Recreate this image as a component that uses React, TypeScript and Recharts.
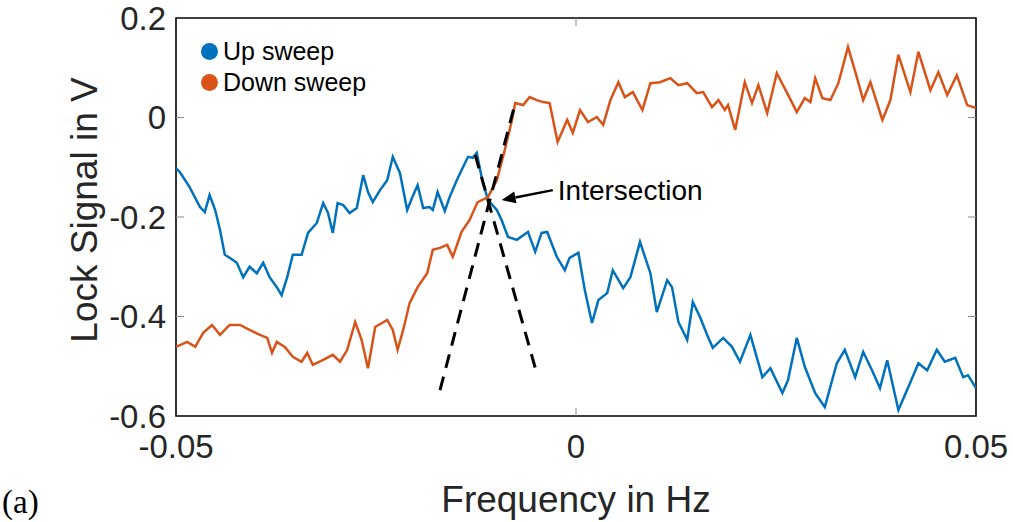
import React from 'react';
import { LineChart, Line, XAxis, YAxis, ReferenceLine, ReferenceArea, Label } from 'recharts';

// frequency in Hz, lock signal in V
const upFreq = [
  -0.05, -0.0495, -0.0483, -0.047, -0.0464, -0.0458, -0.0451, -0.0445, -0.0439, -0.0433,
  -0.0424, -0.0416, -0.0408, -0.0399, -0.0391, -0.0383, -0.0374, -0.0368, -0.0361, -0.0354,
  -0.0343, -0.0335, -0.0324, -0.0316, -0.031, -0.0304, -0.0298, -0.0291, -0.0283, -0.0274,
  -0.0266, -0.026, -0.0254, -0.0245, -0.0236, -0.0229, -0.022, -0.0211, -0.0205, -0.0198,
  -0.0191, -0.0183, -0.0179, -0.0173, -0.0164, -0.0158, -0.0149, -0.0141, -0.0135, -0.0129,
  -0.0124, -0.0118, -0.011, -0.0099, -0.0093, -0.0085, -0.0074, -0.006, -0.0051, -0.0043,
  -0.0036, -0.0024, -0.0014, -0.0008, 0.0003, 0.0011, 0.002, 0.0028, 0.0039, 0.0046,
  0.0059, 0.0068, 0.008, 0.0093, 0.0101, 0.0114, 0.012, 0.0128, 0.0139, 0.0146,
  0.0155, 0.0164, 0.0171, 0.0184, 0.0195, 0.0205, 0.0218, 0.0233, 0.0243, 0.0258,
  0.0265, 0.0276, 0.0286, 0.0299, 0.0311, 0.0326, 0.0336, 0.0349, 0.0359, 0.037,
  0.038, 0.0389, 0.0403, 0.0418, 0.0428, 0.0439, 0.0451, 0.0461, 0.0474, 0.0484,
  0.049, 0.05,
];
const upSignal = [
  -0.102, -0.11, -0.14, -0.18, -0.19, -0.156, -0.186, -0.226, -0.276, -0.282,
  -0.292, -0.321, -0.3, -0.313, -0.292, -0.321, -0.341, -0.357, -0.321, -0.276,
  -0.276, -0.232, -0.212, -0.172, -0.192, -0.232, -0.172, -0.176, -0.192, -0.182,
  -0.116, -0.15, -0.17, -0.146, -0.126, -0.079, -0.112, -0.186, -0.162, -0.136,
  -0.182, -0.18, -0.186, -0.15, -0.188, -0.16, -0.126, -0.099, -0.079, -0.081,
  -0.071, -0.12, -0.166, -0.186, -0.206, -0.24, -0.246, -0.23, -0.27, -0.232,
  -0.23, -0.28, -0.307, -0.282, -0.272, -0.347, -0.413, -0.367, -0.353, -0.307,
  -0.343, -0.321, -0.25, -0.313, -0.391, -0.327, -0.341, -0.411, -0.447, -0.371,
  -0.401, -0.437, -0.463, -0.443, -0.461, -0.491, -0.437, -0.522, -0.504, -0.554,
  -0.528, -0.443, -0.501, -0.554, -0.582, -0.494, -0.467, -0.522, -0.471, -0.508,
  -0.544, -0.488, -0.588, -0.532, -0.494, -0.508, -0.467, -0.491, -0.483, -0.522,
  -0.518, -0.544,
];

const downFreq = [
  -0.05, -0.0486, -0.0476, -0.0466, -0.0455, -0.0445, -0.0433, -0.042, -0.0408, -0.0395,
  -0.0386, -0.038, -0.0374, -0.0364, -0.0354, -0.0343, -0.0336, -0.0329, -0.0316, -0.0304,
  -0.0295, -0.0286, -0.0276, -0.0268, -0.026, -0.0251, -0.0236, -0.0229, -0.0223, -0.0216,
  -0.0208, -0.0198, -0.0186, -0.0179, -0.017, -0.0161, -0.0154, -0.0143, -0.0133, -0.0123,
  -0.011, -0.0099, -0.0089, -0.008, -0.0076, -0.0066, -0.0058, -0.0049, -0.0041, -0.0033,
  -0.0023, -0.0011, -0.0004, 0.0005, 0.0015, 0.0026, 0.0034, 0.0043, 0.0053, 0.0061,
  0.0071, 0.0083, 0.0093, 0.0105, 0.0118, 0.0128, 0.0139, 0.0151, 0.0159, 0.017,
  0.0178, 0.0186, 0.019, 0.0199, 0.0211, 0.022, 0.0228, 0.0239, 0.0251, 0.0264,
  0.0276, 0.0286, 0.0293, 0.0299, 0.0308, 0.0318, 0.0328, 0.034, 0.0351, 0.0359,
  0.0368, 0.0383, 0.0393, 0.0403, 0.0418, 0.0428, 0.0443, 0.0453, 0.0464, 0.0476,
  0.0489, 0.05,
];
const downSignal = [
  -0.461, -0.451, -0.461, -0.433, -0.417, -0.437, -0.417, -0.417, -0.427, -0.437,
  -0.443, -0.473, -0.451, -0.461, -0.481, -0.491, -0.473, -0.497, -0.487, -0.477,
  -0.491, -0.467, -0.411, -0.447, -0.504, -0.421, -0.407, -0.427, -0.467, -0.427,
  -0.373, -0.341, -0.313, -0.266, -0.262, -0.256, -0.28, -0.23, -0.206, -0.17,
  -0.16, -0.126, -0.065, -0.005, 0.029, 0.025, 0.041, 0.035, 0.031, 0.029,
  -0.049, -0.005, -0.031, 0.015, -0.009, 0.001, -0.015, 0.035, 0.071, 0.041,
  0.051, 0.015, 0.069, 0.071, 0.079, 0.065, 0.069, 0.049, 0.051, 0.021,
  0.035, 0.015, 0.025, -0.025, 0.071, 0.029, 0.065, 0.009, 0.089, 0.049,
  0.011, 0.039, 0.031, 0.079, 0.039, 0.035, 0.069, 0.142, 0.081, 0.035,
  0.071, -0.005, 0.035, 0.126, 0.051, 0.132, 0.055, 0.091, 0.045, 0.085,
  0.025, 0.019,
];

// dashed tangents through the intersection
const riseFreq = [-0.017, -0.0076];
const riseSignal = [-0.548, 0.029];
const fallFreq = [-0.0126, -0.0048];
const fallSignal = [-0.075, -0.52];

// annotation arrow (tail -> tip)
const arrowFreq = [-0.0029, -0.0093];
const arrowSignal = [-0.146, -0.166];

const xTicks = [-0.05, 0, 0.05];
const xTickLabels = ['-0.05', '0', '0.05'];
const yTicks = [-0.6, -0.4, -0.2, 0, 0.2];
const yTickLabels = ['-0.6', '-0.4', '-0.2', '0', '0.2'];

const seriesNames = ['Up sweep', 'Down sweep'];
const seriesColors = ['#0072BD', '#D95319'];

const font = "'Liberation Sans', Arial, Helvetica, sans-serif";

const zip = (fs: number[], vs: number[]) => fs.map((f, i) => ({ f, v: vs[i] }));

const upData = zip(upFreq, upSignal);
const downData = zip(downFreq, downSignal);
const riseData = zip(riseFreq, riseSignal);
const fallData = zip(fallFreq, fallSignal);

const ArrowShape = (p: any) => {
  const { x1, y1, x2, y2 } = p;
  const a = Math.atan2(y2 - y1, x2 - x1);
  const len = 14;
  const half = 6;
  const bx = x2 - len * Math.cos(a);
  const by = y2 - len * Math.sin(a);
  const pts = [
    `${x2},${y2}`,
    `${bx + half * Math.sin(a)},${by - half * Math.cos(a)}`,
    `${bx - half * Math.sin(a)},${by + half * Math.cos(a)}`,
  ].join(' ');
  return (
    <g>
      <line x1={x1} y1={y1} x2={bx} y2={by} stroke="#000" strokeWidth={2.5} />
      <polygon points={pts} fill="#000" />
      <text x={x1 + 5} y={y1 + 10} fontSize={28} fontFamily={font} fill="#000">
        Intersection
      </text>
    </g>
  );
};

const XTitle = (props: any) => {
  const vb = props.viewBox;
  return (
    <text x={vb.x + vb.width / 2} y={vb.y + 96} textAnchor="middle" fontSize={37} fontFamily={font} fill="#262626">
      Frequency in Hz
    </text>
  );
};

const YTitle = (props: any) => {
  const vb = props.viewBox;
  const x = vb.x + 21;
  const y = vb.y + vb.height / 2 - 7;
  return (
    <text x={x} y={y} transform={`rotate(-90 ${x} ${y})`} textAnchor="middle" fontSize={37} fontFamily={font} fill="#262626">
      Lock Signal in V
    </text>
  );
};

export default function App() {
  const tickStyle = { fill: '#262626', fontSize: 33, fontFamily: font };
  return (
    <div style={{ position: 'absolute', left: 0, top: 0, width: 1013, height: 522, background: '#fff' }}>
      <LineChart width={1013} height={522} margin={{ top: 18, right: 37, bottom: 6, left: 76 }}>
        <XAxis
          type="number"
          dataKey="f"
          domain={[-0.05, 0.05]}
          ticks={xTicks}
          interval={0}
          allowDataOverflow
          tickFormatter={(v: number) => xTickLabels[xTicks.indexOf(v)]}
          height={100}
          axisLine={false}
          tickLine={false}
          tickSize={0}
          tickMargin={19}
          tick={tickStyle}
        >
          <Label content={XTitle} />
        </XAxis>
        <YAxis
          type="number"
          dataKey="v"
          domain={[-0.6, 0.2]}
          ticks={yTicks}
          interval={0}
          allowDataOverflow
          tickFormatter={(v: number) => yTickLabels[yTicks.indexOf(v)]}
          width={100}
          axisLine={false}
          tickLine={false}
          tickSize={0}
          tickMargin={10}
          tick={tickStyle}
        >
          <Label content={YTitle} />
        </YAxis>

        {yTicks.slice(1, -1).map((t) => (
          <ReferenceLine key={`yl${t}`} segment={[{ x: -0.05, y: t }, { x: -0.049, y: t }]} stroke="#8a8a8a" strokeWidth={1} />
        ))}
        {yTicks.slice(1, -1).map((t) => (
          <ReferenceLine key={`yr${t}`} segment={[{ x: 0.049, y: t }, { x: 0.05, y: t }]} stroke="#8a8a8a" strokeWidth={1} />
        ))}
        {xTicks.slice(1, -1).map((t) => (
          <ReferenceLine key={`xb${t}`} segment={[{ x: t, y: -0.6 }, { x: t, y: -0.584 }]} stroke="#8a8a8a" strokeWidth={1} />
        ))}
        {xTicks.slice(1, -1).map((t) => (
          <ReferenceLine key={`xt${t}`} segment={[{ x: t, y: 0.184 }, { x: t, y: 0.2 }]} stroke="#8a8a8a" strokeWidth={1} />
        ))}

        <Line data={upData} dataKey="v" name={seriesNames[0]} stroke={seriesColors[0]} strokeWidth={2.5} dot={false} activeDot={false} isAnimationActive={false} />
        <Line data={downData} dataKey="v" name={seriesNames[1]} stroke={seriesColors[1]} strokeWidth={2.5} dot={false} activeDot={false} isAnimationActive={false} />
        <Line data={riseData} dataKey="v" stroke="#000" strokeWidth={3} strokeDasharray="14 9" dot={false} activeDot={false} legendType="none" isAnimationActive={false} />
        <Line data={fallData} dataKey="v" stroke="#000" strokeWidth={3} strokeDasharray="14 9" dot={false} activeDot={false} legendType="none" isAnimationActive={false} />

        <ReferenceLine
          segment={[{ x: arrowFreq[0], y: arrowSignal[0] }, { x: arrowFreq[1], y: arrowSignal[1] }]}
          ifOverflow="visible"
          shape={ArrowShape}
        />

        <ReferenceArea x1={-0.05} x2={0.05} y1={-0.6} y2={0.2} fill="none" fillOpacity={0} stroke="#000" strokeWidth={1.6} />
      </LineChart>

      <div style={{ position: 'absolute', left: 201, top: 36, fontFamily: font, fontSize: 25, color: '#000' }}>
        {seriesNames.map((n, i) => (
          <div key={n} style={{ display: 'flex', alignItems: 'center', height: 31 }}>
            <span style={{ width: 17, height: 17, borderRadius: '50%', background: seriesColors[i], display: 'inline-block', marginRight: 5 }} />
            <span>{n}</span>
          </div>
        ))}
      </div>

      <div style={{ position: 'absolute', left: 2, top: 486, fontFamily: "'Liberation Serif', 'Times New Roman', serif", fontSize: 33, lineHeight: '33px', color: '#000' }}>
        (a)
      </div>
    </div>
  );
}
